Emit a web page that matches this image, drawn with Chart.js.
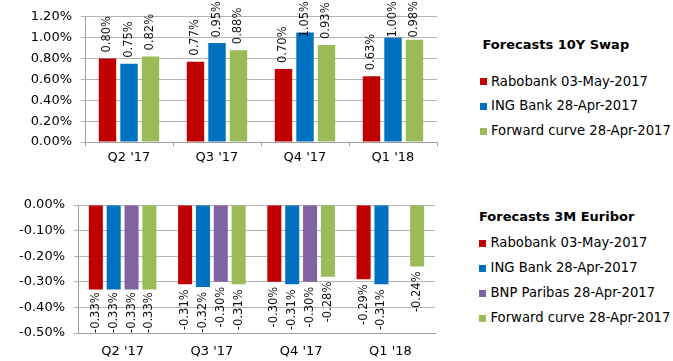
<!DOCTYPE html>
<html>
<head>
<meta charset="utf-8">
<script src="https://cdn.jsdelivr.net/npm/chart.js@4.4.0/dist/chart.umd.min.js"></script>
<style>
  html, body { margin: 0; padding: 0; background: #fff; }
  body { width: 673px; height: 361px; position: relative; overflow: hidden;
         font-family: "DejaVu Sans", Verdana, sans-serif; color: #000; }
  canvas { position: absolute; left: 0; }
  #swapChart { top: 0; }
  #euriborChart { top: 180px; }
  .lg { position: absolute; font-size: 13.2px; line-height: 16px; white-space: nowrap; }
  .lg.title { font-weight: bold; font-size: 13px; }
  .sw { position: absolute; width: 7px; height: 7px; }
</style>
</head>
<body>
<canvas id="swapChart" width="460" height="175"></canvas>
<canvas id="euriborChart" width="460" height="181"></canvas>
<script>
// --- data ---
const quarters = ["Q2 '17", "Q3 '17", "Q4 '17", "Q1 '18"];

const swapNames = ["Rabobank 03-May-2017", "ING Bank 28-Apr-2017", "Forward curve 28-Apr-2017"];
const swapRabo = [0.80, 0.77, 0.70, 0.63];
const swapIng  = [0.75, 0.95, 1.05, 1.00];
const swapFwd  = [0.82, 0.88, 0.93, 0.98];

const euriborNames = ["Rabobank 03-May-2017", "ING Bank 28-Apr-2017", "BNP Paribas 28-Apr-2017", "Forward curve 28-Apr-2017"];
const eurRabo = [-0.33, -0.31, -0.30, -0.29];
const eurIng  = [-0.33, -0.32, -0.31, -0.31];
const eurBnp  = [-0.33, -0.30, -0.30, null];
const eurFwd  = [-0.33, -0.31, -0.28, -0.24];

// --- styles ---
const RED = "#c00000", BLUE = "#0070c0", PURPLE = "#8064a2", GREEN = "#9bbb59";
const GRID = "#b4b4b4", AXIS = "#a0a0a0";
const FONT = { family: "DejaVu Sans", size: 13 };

const pct = v => v.toFixed(2) + "%";

// verticale waarde-labels boven/onder de staven
const barLabels = {
  id: "barLabels",
  afterDatasetsDraw(chart) {
    const ctx = chart.ctx, area = chart.chartArea;
    ctx.save();
    ctx.font = '11.5px "DejaVu Sans"';
    ctx.fillStyle = "#111";
    ctx.textBaseline = "middle";
    chart.data.datasets.forEach((ds, i) => {
      chart.getDatasetMeta(i).data.forEach((bar, j) => {
        const v = ds.data[j];
        if (v == null) return;
        const txt = pct(v);
        const w = ctx.measureText(txt).width;
        ctx.save();
        if (v >= 0) {
          const y = Math.max(bar.y - 6, w + 1);
          ctx.translate(bar.x, y);
          ctx.rotate(-Math.PI / 2);
          ctx.textAlign = "left";
        } else {
          const y = Math.min(bar.y + 5, area.bottom - w);
          ctx.translate(bar.x, y);
          ctx.rotate(-Math.PI / 2);
          ctx.textAlign = "right";
        }
        ctx.fillText(txt, 0, 0);
        ctx.restore();
      });
    });
    ctx.restore();
  }
};

function makeChart(id, sets, opts) {
  return new Chart(document.getElementById(id), {
    type: "bar",
    data: { labels: quarters, datasets: sets },
    options: {
      responsive: false,
      animation: false,
      layout: { padding: opts.padding },
      plugins: { legend: { display: false }, tooltip: { enabled: false } },
      datasets: { bar: { categoryPercentage: opts.catPct, barPercentage: opts.barPct } },
      scales: {
        x: {
          grid: { drawOnChartArea: false, drawTicks: opts.xTicks, tickLength: 4, color: AXIS },
          border: { color: AXIS },
          ticks: { font: FONT, color: "#000", padding: opts.xPad },
          afterFit: s => { s.height = opts.xHeight; }
        },
        y: {
          min: opts.min, max: opts.max,
          grid: { color: GRID, tickLength: 4 },
          border: { color: AXIS },
          ticks: { stepSize: opts.step, font: FONT, color: "#000", padding: 9, callback: v => pct(v) },
          afterFit: s => { s.width = opts.yWidth; }
        }
      }
    },
    plugins: [barLabels]
  });
}

makeChart("swapChart", [
  { label: swapNames[0], data: swapRabo, backgroundColor: RED },
  { label: swapNames[1], data: swapIng, backgroundColor: BLUE },
  { label: swapNames[2], data: swapFwd, backgroundColor: GREEN }
], { padding: { top: 16, right: 23, left: 0, bottom: 0 }, catPct: 0.733, barPct: 0.81,
     min: 0, max: 1.2, step: 0.2, xHeight: 33, yWidth: 85, xTicks: true, xPad: 4 });

makeChart("euriborChart", [
  { label: euriborNames[0], data: eurRabo, backgroundColor: RED },
  { label: euriborNames[1], data: eurIng, backgroundColor: BLUE },
  { label: euriborNames[2], data: eurBnp, backgroundColor: PURPLE },
  { label: euriborNames[3], data: eurFwd, backgroundColor: GREEN }
], { padding: { top: 25, right: 25, left: 0, bottom: 0 }, catPct: 0.80, barPct: 0.786,
     min: -0.5, max: 0, step: 0.1, xHeight: 28, yWidth: 78, xTicks: false, xPad: 11 });

// --- legendes (html) ---
function legend(title, names, colors, x, titleX, titleY, rows) {
  const t = document.createElement("div");
  t.className = "lg title";
  t.textContent = title;
  t.style.left = titleX + "px";
  t.style.top = (titleY - 8) + "px";
  document.body.appendChild(t);
  names.forEach((n, i) => {
    const sw = document.createElement("div");
    sw.className = "sw";
    sw.style.background = colors[i];
    sw.style.left = x + "px";
    sw.style.top = (rows[i] - 3.5) + "px";
    document.body.appendChild(sw);
    const d = document.createElement("div");
    d.className = "lg";
    d.textContent = n;
    d.style.left = (x + 11.5) + "px";
    d.style.top = (rows[i] - 8) + "px";
    document.body.appendChild(d);
  });
}

legend("Forecasts 10Y Swap", swapNames, [RED, BLUE, GREEN], 479.5, 482.5, 45, [81.7, 106.3, 131]);
legend("Forecasts 3M Euribor", euriborNames, [RED, BLUE, PURPLE, GREEN], 479, 479, 217.3, [243.3, 268.3, 293, 318]);
</script>
</body>
</html>
